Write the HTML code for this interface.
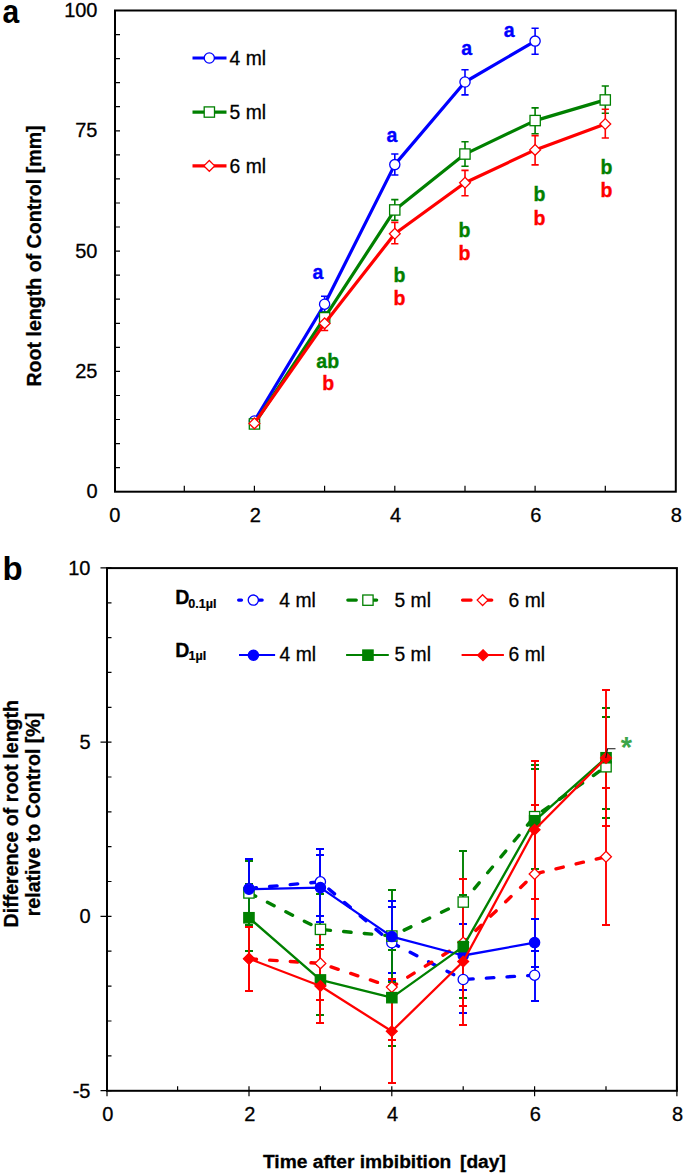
<!DOCTYPE html>
<html><head><meta charset="utf-8"><style>
html,body{margin:0;padding:0;background:#fff;}
svg{display:block;}
.t{font-family:"Liberation Sans", sans-serif;font-size:20px;fill:#000;stroke:#000;stroke-width:0.3px;}
.tl{font-family:"Liberation Sans", sans-serif;font-size:19.3px;fill:#000;stroke:#000;stroke-width:0.3px;}
.tb{font-family:"Liberation Sans", sans-serif;font-size:19.6px;font-weight:bold;fill:#000;stroke:#000;stroke-width:0.3px;}
.tbx{font-family:"Liberation Sans", sans-serif;font-size:19.2px;font-weight:bold;fill:#000;stroke:#000;stroke-width:0.3px;}
.lb{font-family:"Liberation Sans", sans-serif;font-size:19.5px;font-weight:bold;stroke-width:0.35px;}
.big{font-family:"Liberation Sans", sans-serif;font-size:33px;font-weight:bold;fill:#000;}
.sub{font-family:"Liberation Sans", sans-serif;font-size:12.6px;font-weight:bold;fill:#000;stroke:#000;stroke-width:0.2px;}
</style></head><body>
<svg width="685" height="1175" viewBox="0 0 685 1175">
<rect x="115.0" y="10.5" width="560.8" height="481.2" fill="none" stroke="#000" stroke-width="2"/>
<path d="M115.0 467.6H120.0 M115.0 443.6H120.0 M115.0 419.5H120.0 M115.0 395.5H120.0 M115.0 371.4H120.0 M115.0 347.3H120.0 M115.0 323.3H120.0 M115.0 299.2H120.0 M115.0 275.2H120.0 M115.0 251.1H120.0 M115.0 227.0H120.0 M115.0 203.0H120.0 M115.0 178.9H120.0 M115.0 154.9H120.0 M115.0 130.8H120.0 M115.0 106.7H120.0 M115.0 82.7H120.0 M115.0 58.6H120.0 M115.0 34.6H120.0 M184.3 491.7V485.7 M254.4 491.7V485.7 M324.6 491.7V485.7 M394.8 491.7V485.7 M465.0 491.7V485.7 M535.1 491.7V485.7 M605.3 491.7V485.7" stroke="#000" stroke-width="1.2" fill="none"/>
<text x="97.5" y="498.2" text-anchor="end" class="t">0</text>
<text x="97.5" y="377.9" text-anchor="end" class="t">25</text>
<text x="97.5" y="257.6" text-anchor="end" class="t">50</text>
<text x="97.5" y="137.3" text-anchor="end" class="t">75</text>
<text x="97.5" y="17.0" text-anchor="end" class="t">100</text>
<text x="114.9" y="521.6" text-anchor="middle" class="t">0</text>
<text x="255.2" y="521.6" text-anchor="middle" class="t">2</text>
<text x="395.6" y="521.6" text-anchor="middle" class="t">4</text>
<text x="535.9" y="521.6" text-anchor="middle" class="t">6</text>
<text x="676.3" y="521.6" text-anchor="middle" class="t">8</text>
<text transform="translate(41,256) rotate(-90)" text-anchor="middle" class="tb">Root length of Control [mm]</text>
<text transform="translate(2.4,23.4) scale(0.91,1)" class="big">a</text>
<path d="M192.5 58.0H226.5" stroke="#0000ff" stroke-width="3.2"/>
<circle cx="209.3" cy="58.0" r="5.1" fill="#fff" stroke="#0000ff" stroke-width="1.3"/>
<text x="229.6" y="64.6" class="tl">4 ml</text>
<path d="M192.5 112.1H226.5" stroke="#008000" stroke-width="3.2"/>
<rect x="204.2" y="106.9" width="10.3" height="10.3" fill="#fff" stroke="#008000" stroke-width="1.3"/>
<text x="229.6" y="118.7" class="tl">5 ml</text>
<path d="M192.5 165.9H226.5" stroke="#ff0000" stroke-width="3.2"/>
<path d="M209.3 160.5L214.7 165.9L209.3 171.3L203.9 165.9Z" fill="#fff" stroke="#ff0000" stroke-width="1.3"/>
<text x="229.6" y="172.5" class="tl">6 ml</text>
<path d="M324.6 296.3V312.1M321.0 296.3H328.2M321.0 312.1H328.2 M394.8 154.0V175.0M391.2 154.0H398.4M391.2 175.0H398.4 M465.0 69.8V94.9M461.4 69.8H468.6M461.4 94.9H468.6 M535.1 28.2V54.3M531.5 28.2H538.7M531.5 54.3H538.7" stroke="#0000ff" stroke-width="1.6" fill="none"/>
<path d="M324.6 312.1V323.3M321.0 312.1H328.2M321.0 323.3H328.2 M394.8 199.6V220.3M391.2 199.6H398.4M391.2 220.3H398.4 M465.0 141.8V166.3M461.4 141.8H468.6M461.4 166.3H468.6 M535.1 107.9V133.8M531.5 107.9H538.7M531.5 133.8H538.7 M605.3 86.0V113.3M601.7 86.0H608.9M601.7 113.3H608.9" stroke="#008000" stroke-width="1.6" fill="none"/>
<path d="M324.6 316.3V330.5M321.0 316.3H328.2M321.0 330.5H328.2 M394.8 222.4V243.8M391.2 222.4H398.4M391.2 243.8H398.4 M465.0 170.4V195.7M461.4 170.4H468.6M461.4 195.7H468.6 M535.1 135.6V164.9M531.5 135.6H538.7M531.5 164.9H538.7 M605.3 109.3V138.0M601.7 109.3H608.9M601.7 138.0H608.9" stroke="#ff0000" stroke-width="1.6" fill="none"/>
<polyline points="254.4,421.0 324.6,304.2 394.8,164.6 465.0,82.0 535.1,41.1" fill="none" stroke="#0000ff" stroke-width="3.2" stroke-linejoin="round"/>
<circle cx="254.4" cy="421.0" r="5.1" fill="#fff" stroke="#0000ff" stroke-width="1.3"/>
<circle cx="324.6" cy="304.2" r="5.1" fill="#fff" stroke="#0000ff" stroke-width="1.3"/>
<circle cx="394.8" cy="164.6" r="5.1" fill="#fff" stroke="#0000ff" stroke-width="1.3"/>
<circle cx="465.0" cy="82.0" r="5.1" fill="#fff" stroke="#0000ff" stroke-width="1.3"/>
<circle cx="535.1" cy="41.1" r="5.1" fill="#fff" stroke="#0000ff" stroke-width="1.3"/>
<polyline points="254.4,423.9 324.6,317.7 394.8,209.9 465.0,154.1 535.1,120.6 605.3,99.9" fill="none" stroke="#008000" stroke-width="3.2" stroke-linejoin="round"/>
<rect x="249.3" y="418.8" width="10.3" height="10.3" fill="#fff" stroke="#008000" stroke-width="1.3"/>
<rect x="319.5" y="312.6" width="10.3" height="10.3" fill="#fff" stroke="#008000" stroke-width="1.3"/>
<rect x="389.6" y="204.8" width="10.3" height="10.3" fill="#fff" stroke="#008000" stroke-width="1.3"/>
<rect x="459.8" y="148.9" width="10.3" height="10.3" fill="#fff" stroke="#008000" stroke-width="1.3"/>
<rect x="530.0" y="115.4" width="10.3" height="10.3" fill="#fff" stroke="#008000" stroke-width="1.3"/>
<rect x="600.1" y="94.8" width="10.3" height="10.3" fill="#fff" stroke="#008000" stroke-width="1.3"/>
<polyline points="254.4,423.4 324.6,323.4 394.8,233.7 465.0,182.7 535.1,149.9 605.3,124.0" fill="none" stroke="#ff0000" stroke-width="3.2" stroke-linejoin="round"/>
<path d="M254.4 418.0L259.8 423.4L254.4 428.8L249.0 423.4Z" fill="#fff" stroke="#ff0000" stroke-width="1.3"/>
<path d="M324.6 318.0L330.0 323.4L324.6 328.8L319.2 323.4Z" fill="#fff" stroke="#ff0000" stroke-width="1.3"/>
<path d="M394.8 228.3L400.2 233.7L394.8 239.1L389.4 233.7Z" fill="#fff" stroke="#ff0000" stroke-width="1.3"/>
<path d="M465.0 177.3L470.4 182.7L465.0 188.1L459.6 182.7Z" fill="#fff" stroke="#ff0000" stroke-width="1.3"/>
<path d="M535.1 144.5L540.5 149.9L535.1 155.3L529.7 149.9Z" fill="#fff" stroke="#ff0000" stroke-width="1.3"/>
<path d="M605.3 118.6L610.7 124.0L605.3 129.4L599.9 124.0Z" fill="#fff" stroke="#ff0000" stroke-width="1.3"/>
<text x="317.9" y="279.2" text-anchor="middle" class="lb" fill="#0000ff" stroke="#0000ff">a</text>
<text x="327.7" y="368.2" text-anchor="middle" class="lb" fill="#008000" stroke="#008000">ab</text>
<text x="328.3" y="390.3" text-anchor="middle" class="lb" fill="#ff0000" stroke="#ff0000">b</text>
<text x="392.0" y="142.0" text-anchor="middle" class="lb" fill="#0000ff" stroke="#0000ff">a</text>
<text x="399.4" y="281.9" text-anchor="middle" class="lb" fill="#008000" stroke="#008000">b</text>
<text x="399.4" y="304.9" text-anchor="middle" class="lb" fill="#ff0000" stroke="#ff0000">b</text>
<text x="466.7" y="54.9" text-anchor="middle" class="lb" fill="#0000ff" stroke="#0000ff">a</text>
<text x="464.5" y="237.0" text-anchor="middle" class="lb" fill="#008000" stroke="#008000">b</text>
<text x="464.5" y="259.7" text-anchor="middle" class="lb" fill="#ff0000" stroke="#ff0000">b</text>
<text x="509.3" y="36.9" text-anchor="middle" class="lb" fill="#0000ff" stroke="#0000ff">a</text>
<text x="539.5" y="201.4" text-anchor="middle" class="lb" fill="#008000" stroke="#008000">b</text>
<text x="539.5" y="225.3" text-anchor="middle" class="lb" fill="#ff0000" stroke="#ff0000">b</text>
<text x="606.4" y="174.0" text-anchor="middle" class="lb" fill="#008000" stroke="#008000">b</text>
<text x="606.4" y="196.6" text-anchor="middle" class="lb" fill="#ff0000" stroke="#ff0000">b</text>
<rect x="107.0" y="568.1" width="569.9" height="522.7" fill="none" stroke="#000" stroke-width="2"/>
<path d="M100.5 1090.7H111.5 M107.0 1055.8H111.5 M107.0 1021.0H111.5 M107.0 986.1H111.5 M107.0 951.2H111.5 M100.5 916.4H111.5 M107.0 881.5H111.5 M107.0 846.7H111.5 M107.0 811.8H111.5 M107.0 777.0H111.5 M100.5 742.1H111.5 M107.0 707.3H111.5 M107.0 672.4H111.5 M107.0 637.6H111.5 M107.0 602.8H111.5 M100.5 567.9H111.5 M107.0 1086.3V1096.3 M177.6 1090.8V1086.3 M249.0 1086.3V1096.3 M320.4 1090.8V1086.3 M391.8 1086.3V1096.3 M463.2 1090.8V1086.3 M534.6 1086.3V1096.3 M606.0 1090.8V1086.3 M676.9 1086.3V1096.3" stroke="#000" stroke-width="1.2" fill="none"/>
<text x="90.5" y="1097.5" text-anchor="end" class="t">-5</text>
<text x="90.5" y="923.2" text-anchor="end" class="t">0</text>
<text x="90.5" y="748.9" text-anchor="end" class="t">5</text>
<text x="90.5" y="574.7" text-anchor="end" class="t">10</text>
<text x="107.7" y="1120.6" text-anchor="middle" class="t">0</text>
<text x="249.7" y="1120.6" text-anchor="middle" class="t">2</text>
<text x="392.5" y="1120.6" text-anchor="middle" class="t">4</text>
<text x="535.3" y="1120.6" text-anchor="middle" class="t">6</text>
<text x="677.6" y="1120.6" text-anchor="middle" class="t">8</text>
<text transform="translate(17.5,813.7) rotate(-90)" text-anchor="middle" class="tb">Difference of root length</text>
<text transform="translate(40.1,814.5) rotate(-90)" text-anchor="middle" class="tb">relative to Control [%]</text>
<text x="263" y="1168.2" class="tbx">Time after imbibition</text><text x="460" y="1168.2" class="tbx">[day]</text>
<text x="2.6" y="580.3" class="big">b</text>
<text x="175.3" y="603.6" class="tb">D</text><text x="188.3" y="607.5" class="sub">0.1µl</text>
<text x="175.3" y="656.6" class="tb">D</text><text x="188.6" y="660.1" class="sub">1µl</text>
<path d="M238.6 600.1H241.5M258.4 600.1H262.2" stroke="#0000ff" stroke-width="3.2" stroke-linecap="round"/>
<circle cx="253.3" cy="600.1" r="5.1" fill="#fff" stroke="#0000ff" stroke-width="1.3"/>
<path d="M347.8 600.1H356.3M372.0 600.1H376.7" stroke="#008000" stroke-width="3.2" stroke-linecap="round"/>
<rect x="362.8" y="595.0" width="10.3" height="10.3" fill="#fff" stroke="#008000" stroke-width="1.3"/>
<path d="M462.5 600.1H471.1M487.0 600.1H491.8" stroke="#ff0000" stroke-width="3.2" stroke-linecap="round"/>
<path d="M482.6 594.7L488.0 600.1L482.6 605.5L477.2 600.1Z" fill="#fff" stroke="#ff0000" stroke-width="1.3"/>
<text x="279.3" y="606.5" class="tl">4 ml</text>
<text x="394.5" y="606.5" class="tl">5 ml</text>
<text x="508.6" y="606.5" class="tl">6 ml</text>
<path d="M239.0 654.9H275.1" stroke="#0000ff" stroke-width="2"/>
<circle cx="253.4" cy="655.2" r="5.1" fill="#0000ff" stroke="#0000ff" stroke-width="1.3"/>
<path d="M346.1 654.9H388.8" stroke="#008000" stroke-width="2"/>
<rect x="362.8" y="650.0" width="10.3" height="10.3" fill="#008000" stroke="#008000" stroke-width="1.3"/>
<path d="M461.6 654.9H503.9" stroke="#ff0000" stroke-width="2"/>
<path d="M483.0 649.8L488.4 655.2L483.0 660.6L477.6 655.2Z" fill="#ff0000" stroke="#ff0000" stroke-width="1.3"/>
<text x="279.6" y="660.8" class="tl">4 ml</text>
<text x="394.5" y="660.8" class="tl">5 ml</text>
<text x="508.6" y="660.8" class="tl">6 ml</text>
<path d="M249.0 859.0V918.0M245.0 859.0H253.0M245.0 918.0H253.0 M320.0 849.0V916.0M316.0 849.0H324.0M316.0 916.0H324.0 M392.0 907.0V980.0M388.0 907.0H396.0M388.0 980.0H396.0 M463.0 946.0V1013.0M459.0 946.0H467.0M459.0 1013.0H467.0 M535.0 951.0V1001.0M531.0 951.0H539.0M531.0 1001.0H539.0" stroke="#0000ff" stroke-width="1.9" fill="none"/>
<path d="M249.0 861.0V925.0M245.0 861.0H253.0M245.0 925.0H253.0 M320.0 894.0V965.0M316.0 894.0H324.0M316.0 965.0H324.0 M392.0 890.0V982.0M388.0 890.0H396.0M388.0 982.0H396.0 M463.0 851.0V953.0M459.0 851.0H467.0M459.0 953.0H467.0 M535.0 765.0V869.0M531.0 765.0H539.0M531.0 869.0H539.0 M606.0 717.0V818.0M602.0 717.0H610.0M602.0 818.0H610.0" stroke="#008000" stroke-width="1.9" fill="none"/>
<path d="M249.0 927.0V991.0M245.0 927.0H253.0M245.0 991.0H253.0 M320.0 926.0V1000.0M316.0 926.0H324.0M316.0 1000.0H324.0 M392.0 935.0V1040.0M388.0 935.0H396.0M388.0 1040.0H396.0 M463.0 879.0V1006.0M459.0 879.0H467.0M459.0 1006.0H467.0 M535.0 805.0V943.0M531.0 805.0H539.0M531.0 943.0H539.0 M606.0 788.0V925.0M602.0 788.0H610.0M602.0 925.0H610.0" stroke="#ff0000" stroke-width="1.9" fill="none"/>
<path d="M249.0 859.0V919.0M245.0 859.0H253.0M245.0 919.0H253.0 M320.0 855.0V922.0M316.0 855.0H324.0M316.0 922.0H324.0 M392.0 901.0V973.0M388.0 901.0H396.0M388.0 973.0H396.0 M463.0 924.0V990.0M459.0 924.0H467.0M459.0 990.0H467.0 M535.0 919.0V967.0M531.0 919.0H539.0M531.0 967.0H539.0" stroke="#0000ff" stroke-width="1.9" fill="none"/>
<path d="M249.0 884.0V951.0M245.0 884.0H253.0M245.0 951.0H253.0 M320.0 945.0V1015.0M316.0 945.0H324.0M316.0 1015.0H324.0 M392.0 950.0V1046.0M388.0 950.0H396.0M388.0 1046.0H396.0 M463.0 895.0V998.0M459.0 895.0H467.0M459.0 998.0H467.0 M535.0 769.0V873.0M531.0 769.0H539.0M531.0 873.0H539.0 M606.0 708.0V809.0M602.0 708.0H610.0M602.0 809.0H610.0" stroke="#008000" stroke-width="1.9" fill="none"/>
<path d="M249.0 927.0V991.0M245.0 927.0H253.0M245.0 991.0H253.0 M320.0 949.0V1023.0M316.0 949.0H324.0M316.0 1023.0H324.0 M392.0 979.0V1083.0M388.0 979.0H396.0M388.0 1083.0H396.0 M463.0 898.0V1025.0M459.0 898.0H467.0M459.0 1025.0H467.0 M535.0 761.0V899.0M531.0 761.0H539.0M531.0 899.0H539.0 M606.0 690.0V826.0M602.0 690.0H610.0M602.0 826.0H610.0" stroke="#ff0000" stroke-width="1.9" fill="none"/>
<polyline points="249.0,888.5 320.4,881.8 391.8,942.8 463.2,979.5 534.6,975.2" fill="none" stroke="#0000ff" stroke-width="3.4" stroke-linejoin="round" stroke-dasharray="7.5 13.2" stroke-linecap="round"/>
<circle cx="249.0" cy="888.5" r="5.1" fill="#fff" stroke="#0000ff" stroke-width="1.3"/>
<circle cx="320.4" cy="881.8" r="5.1" fill="#fff" stroke="#0000ff" stroke-width="1.3"/>
<circle cx="391.8" cy="942.8" r="5.1" fill="#fff" stroke="#0000ff" stroke-width="1.3"/>
<circle cx="463.2" cy="979.5" r="5.1" fill="#fff" stroke="#0000ff" stroke-width="1.3"/>
<circle cx="534.6" cy="975.2" r="5.1" fill="#fff" stroke="#0000ff" stroke-width="1.3"/>
<polyline points="249.0,892.9 320.4,929.4 391.8,936.0 463.2,902.0 534.6,816.6 606.0,766.7" fill="none" stroke="#008000" stroke-width="3.4" stroke-linejoin="round" stroke-dasharray="7.5 13.2" stroke-linecap="round"/>
<rect x="243.8" y="887.8" width="10.3" height="10.3" fill="#fff" stroke="#008000" stroke-width="1.3"/>
<rect x="315.3" y="924.2" width="10.3" height="10.3" fill="#fff" stroke="#008000" stroke-width="1.3"/>
<rect x="386.7" y="930.9" width="10.3" height="10.3" fill="#fff" stroke="#008000" stroke-width="1.3"/>
<rect x="458.1" y="896.9" width="10.3" height="10.3" fill="#fff" stroke="#008000" stroke-width="1.3"/>
<rect x="529.5" y="811.5" width="10.3" height="10.3" fill="#fff" stroke="#008000" stroke-width="1.3"/>
<rect x="600.9" y="761.6" width="10.3" height="10.3" fill="#fff" stroke="#008000" stroke-width="1.3"/>
<polyline points="249.0,958.8 320.4,963.4 391.8,987.1 463.2,942.5 534.6,874.0 606.0,856.7" fill="none" stroke="#ff0000" stroke-width="3.4" stroke-linejoin="round" stroke-dasharray="7.5 13.2" stroke-linecap="round"/>
<path d="M249.0 953.4L254.4 958.8L249.0 964.2L243.6 958.8Z" fill="#fff" stroke="#ff0000" stroke-width="1.3"/>
<path d="M320.4 958.0L325.8 963.4L320.4 968.8L315.0 963.4Z" fill="#fff" stroke="#ff0000" stroke-width="1.3"/>
<path d="M391.8 981.7L397.2 987.1L391.8 992.5L386.4 987.1Z" fill="#fff" stroke="#ff0000" stroke-width="1.3"/>
<path d="M463.2 937.1L468.6 942.5L463.2 947.9L457.8 942.5Z" fill="#fff" stroke="#ff0000" stroke-width="1.3"/>
<path d="M534.6 868.6L540.0 874.0L534.6 879.4L529.2 874.0Z" fill="#fff" stroke="#ff0000" stroke-width="1.3"/>
<path d="M606.0 851.3L611.4 856.7L606.0 862.1L600.6 856.7Z" fill="#fff" stroke="#ff0000" stroke-width="1.3"/>
<polyline points="249.0,889.3 320.4,887.6 391.8,936.6 463.2,955.5 534.6,942.6" fill="none" stroke="#0000ff" stroke-width="2.3" stroke-linejoin="round"/>
<circle cx="249.0" cy="889.3" r="5.1" fill="#0000ff" stroke="#0000ff" stroke-width="1.3"/>
<circle cx="320.4" cy="887.6" r="5.1" fill="#0000ff" stroke="#0000ff" stroke-width="1.3"/>
<circle cx="391.8" cy="936.6" r="5.1" fill="#0000ff" stroke="#0000ff" stroke-width="1.3"/>
<circle cx="463.2" cy="955.5" r="5.1" fill="#0000ff" stroke="#0000ff" stroke-width="1.3"/>
<circle cx="534.6" cy="942.6" r="5.1" fill="#0000ff" stroke="#0000ff" stroke-width="1.3"/>
<polyline points="249.0,917.8 320.4,979.9 391.8,997.6 463.2,946.6 534.6,820.8 606.0,757.8" fill="none" stroke="#008000" stroke-width="2.3" stroke-linejoin="round"/>
<rect x="243.8" y="912.6" width="10.3" height="10.3" fill="#008000" stroke="#008000" stroke-width="1.3"/>
<rect x="315.3" y="974.8" width="10.3" height="10.3" fill="#008000" stroke="#008000" stroke-width="1.3"/>
<rect x="386.7" y="992.5" width="10.3" height="10.3" fill="#008000" stroke="#008000" stroke-width="1.3"/>
<rect x="458.1" y="941.5" width="10.3" height="10.3" fill="#008000" stroke="#008000" stroke-width="1.3"/>
<rect x="529.5" y="815.6" width="10.3" height="10.3" fill="#008000" stroke="#008000" stroke-width="1.3"/>
<rect x="600.9" y="752.6" width="10.3" height="10.3" fill="#008000" stroke="#008000" stroke-width="1.3"/>
<polyline points="249.0,958.7 320.4,986.0 391.8,1031.3 463.2,961.5 534.6,829.8 606.0,757.9" fill="none" stroke="#ff0000" stroke-width="2.3" stroke-linejoin="round"/>
<path d="M249.0 953.3L254.4 958.7L249.0 964.1L243.6 958.7Z" fill="#ff0000" stroke="#ff0000" stroke-width="1.3"/>
<path d="M320.4 980.6L325.8 986.0L320.4 991.4L315.0 986.0Z" fill="#ff0000" stroke="#ff0000" stroke-width="1.3"/>
<path d="M391.8 1025.9L397.2 1031.3L391.8 1036.7L386.4 1031.3Z" fill="#ff0000" stroke="#ff0000" stroke-width="1.3"/>
<path d="M463.2 956.1L468.6 961.5L463.2 966.9L457.8 961.5Z" fill="#ff0000" stroke="#ff0000" stroke-width="1.3"/>
<path d="M534.6 824.4L540.0 829.8L534.6 835.2L529.2 829.8Z" fill="#ff0000" stroke="#ff0000" stroke-width="1.3"/>
<path d="M606.0 752.5L611.4 757.9L606.0 763.3L600.6 757.9Z" fill="#ff0000" stroke="#ff0000" stroke-width="1.3"/>
<path d="M605.8 758L607.6 748.7H615.5" stroke="#111" stroke-width="1.1" fill="none"/>
<text x="626.5" y="756.7" text-anchor="middle" font-family='"Liberation Sans", sans-serif' font-weight="bold" font-size="29" fill="#3da54a">*</text>
</svg>
</body></html>
